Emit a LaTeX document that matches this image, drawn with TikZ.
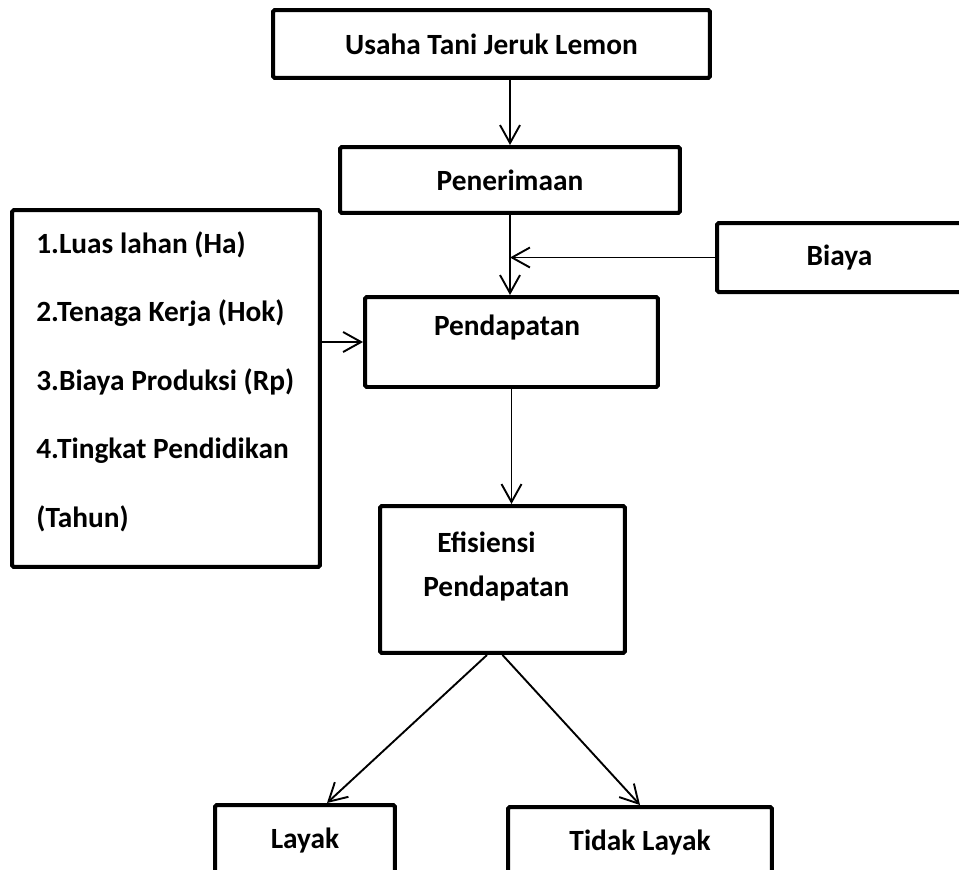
\documentclass[tikz,border=0pt]{standalone}
\usepackage{fontspec}
\setmainfont{Carlito}
\usepackage{tikz}
\usetikzlibrary{positioning,arrows.meta,calc}
\tikzset{
  flowbox/.style={draw, line width=0.08cm, rounded corners=1pt, inner sep=0pt,
    fill=white, font=\fontsize{16.7}{20}\selectfont\bfseries},
  flowarrow/.style={-{Straight Barb[length=0.36cm, width=0.4cm]}, line width=0.038cm},
  flowlabel/.style={font=\fontsize{16.7}{20}\selectfont\bfseries, inner sep=0pt},
}

\begin{document}
\begin{tikzpicture}[x=0.02cm, y=-0.02cm]
  \clip (0,0) rectangle (959,869);
  \fill[white] (0,0) rectangle (959,869);
  % kotak utama
  \node[flowbox, minimum width=8.74cm, minimum height=1.36cm] (usaha) at (491.5,44) {Usaha Tani Jeruk Lemon};
  \node[flowbox, minimum width=6.8cm, minimum height=1.32cm] (pener) at (510,180) {Penerimaan};
  \node[flowbox, minimum width=4.9cm, minimum height=1.38cm] (biaya) at (839.5,257.5) {Biaya};
  \node[flowbox, minimum width=5.86cm, minimum height=1.8cm] (pend) at (511.5,342) {};
  \node[flowlabel] (pendtext) at (507,328) {Pendapatan};
  \node[flowbox, minimum width=6.16cm, minimum height=7.14cm] (faktor) at (166,388.5) {};
  \node[flowlabel, align=left, anchor=north west, font=\fontsize{16.7}{39}\selectfont\bfseries] (faktortext) at (36,231)
    {1.Luas lahan (Ha)\\2.Tenaga Kerja (Hok)\\3.Biaya Produksi (Rp)\\4.Tingkat Pendidikan\\(Tahun)};
  \node[flowbox, minimum width=4.9cm, minimum height=2.94cm] (efis) at (502.5,579.5) {};
  \node[flowlabel, align=left, anchor=north west, font=\fontsize{16.7}{24.5}\selectfont\bfseries] (efistext) at (423,532)
    {\hspace{0.28cm}Efisiensi\\Pendapatan};
  \node[flowbox, minimum width=3.6cm, minimum height=1.4cm] (layak) at (305,840) {Layak};
  \node[flowbox, minimum width=5.28cm, minimum height=1.4cm] (tidak) at (640,842) {Tidak Layak};
  % panah
  \draw[flowarrow] (usaha.south -| pener.north) -- (pener.north);
  \draw[flowarrow] (pener.south) -- (pener.south |- pend.north);
  \draw[flowarrow] (biaya.west) -- (biaya.west -| pener.south);
  \draw[flowarrow] (pend.west -| faktor.east) -- (pend.west);
  \draw[flowarrow] (pend.south) -- (pend.south |- efis.north);
  \draw[flowarrow] ([xshift=-0.31cm]efis.south) -- ([xshift=0.44cm]layak.north);
  \draw[flowarrow] (efis.south) -- (tidak.north);
\end{tikzpicture}
\end{document}
